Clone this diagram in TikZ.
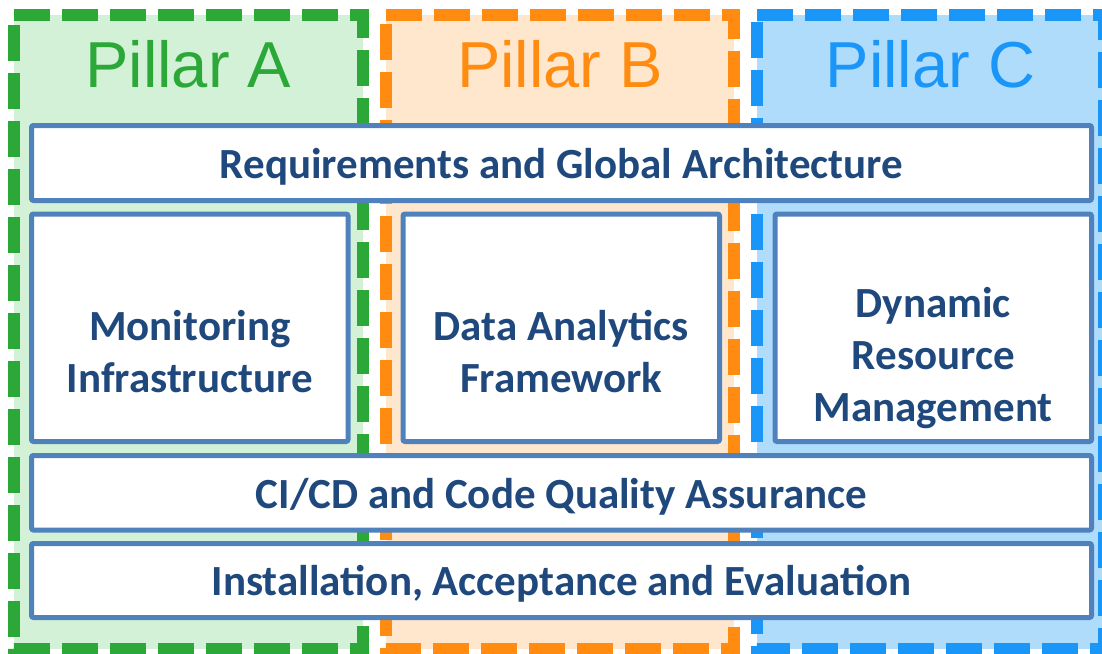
\documentclass[tikz,border=0pt]{standalone}
\usepackage{fontspec}
\setmainfont{Carlito}
\newfontfamily\pillarfont{Liberation Sans}
\definecolor{gline}{RGB}{44,168,56}
\definecolor{gfill}{RGB}{211,241,214}
\definecolor{oline}{RGB}{255,140,16}
\definecolor{ofill}{RGB}{255,231,206}
\definecolor{bline}{RGB}{26,150,248}
\definecolor{bfill}{RGB}{176,220,252}
\definecolor{boxblue}{RGB}{79,129,189}
\definecolor{textblue}{RGB}{31,73,125}
\begin{document}
\begin{tikzpicture}[x=1pt,y=-1pt,
  pillar/.style={line width=12pt, dash pattern=on 36pt off 12pt},
  box/.style={draw=boxblue, line width=5pt, fill=white, rounded corners=2pt, inner sep=0pt},
  boxtext/.style={text=textblue, font=\bfseries\fontsize{43}{52}\selectfont, align=center, inner sep=0pt},
  title/.style={font=\pillarfont\fontsize{65}{78}\selectfont, anchor=base, inner sep=0pt}]
\useasboundingbox (0,0) rectangle (1102,653);
\clip (0,0) rectangle (1102,653);
% pillars
\fill[gfill] (14,14.5) rectangle (362.5,649);
\draw[pillar, draw=gline] (14,14.5) -- (362.5,14.5) -- (362.5,649) -- (14,649) -- cycle;
\fill[ofill] (386,14.5) rectangle (734,649);
\draw[pillar, draw=oline] (386,14.5) -- (734,14.5) -- (734,649) -- (386,649) -- cycle;
\fill[bfill] (757,14.5) rectangle (1104,649);
\draw[pillar, draw=bline] (757,14.5) -- (1104,14.5) -- (1104,649) -- (757,649) -- cycle;
\node[title, text=gline] (ta) at (188.25,87) {Pillar A};
\node[title, text=oline] (tb) at (560,87) {Pillar B};
\node[title, text=bline] (tc) at (930.5,87) {Pillar C};
% boxes
\node[box, minimum width=1060pt, minimum height=75pt] (req) at (561.5,163) {};
\node[box, minimum width=316.5pt, minimum height=227.5pt] (mon) at (189.75,327.75) {};
\node[box, minimum width=316.5pt, minimum height=227.5pt] (dat) at (561.25,327.75) {};
\node[box, minimum width=316.5pt, minimum height=227.5pt] (dyn) at (933.25,327.75) {};
\node[box, minimum width=1060pt, minimum height=74.5pt] (ci) at (561.5,492.75) {};
\node[box, minimum width=1060pt, minimum height=74pt] (ins) at (561.5,580.5) {};
% texts
\node[boxtext, anchor=base] (reqt) at (561.5,178) {Requirements and Global Architecture};
\node[boxtext] (mont) at (189.75,352) {Monitoring\\Infrastructure};
\node[boxtext] (datt) at (561.25,352) {Data Analytics\\Framework};
\node[boxtext] (dynt) at (933.25,358) {Dynamic\\Resource\\Management};
\node[boxtext, anchor=base] (cit) at (561.5,508) {CI/CD and Code Quality Assurance};
\node[boxtext, anchor=base] (inst) at (561.5,595) {Installation, Acceptance and Evaluation};
\end{tikzpicture}
\end{document}
